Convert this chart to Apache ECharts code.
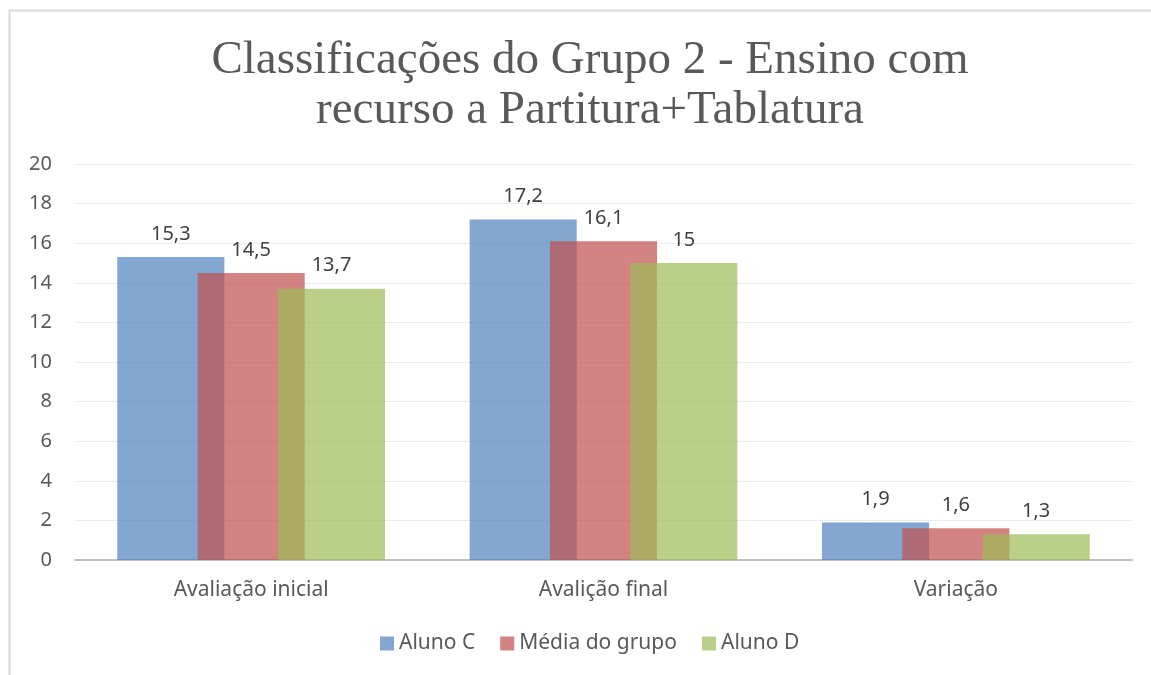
<!DOCTYPE html>
<html>
<head>
<meta charset="utf-8">
<script src="https://cdn.jsdelivr.net/npm/echarts@6/dist/echarts.min.js"></script>
<style>
  html, body { margin: 0; padding: 0; background: #fff; }
  #chart { width: 1151px; height: 675px; }
</style>
</head>
<body>
<div id="chart"></div>
<script>
// dados do gráfico
const categorias = ["Avaliação inicial", "Avalição final", "Variação"];
const alunoC = [15.3, 17.2, 1.9];
const mediaGrupo = [14.5, 16.1, 1.6];
const alunoD = [13.7, 15, 1.3];

const chart = echarts.init(document.getElementById("chart"));

const fmt = (p) => String(p.value).replace(".", ",");
const labelStyle = {
  show: true,
  position: "top",
  distance: 13,
  color: "#404040",
  fontSize: 20,
  fontFamily: "Noto Sans",
  formatter: fmt,
};

chart.setOption({
  animation: false,
  graphic: [
    {
      type: "rect",
      shape: { x: 9.5, y: 10.5, width: 1200, height: 700 },
      style: { fill: "none", stroke: "#d9d9d9", lineWidth: 2 },
      silent: true,
    },
  ],
  title: {
    text: "Classificações do Grupo 2 - Ensino com\nrecurso a Partitura+Tablatura",
    left: 585,
    textAlign: "center",
    top: 31,
    textStyle: {
      fontFamily: "Liberation Serif",
      fontWeight: "normal",
      fontSize: 47,
      lineHeight: 50,
      color: "#595959",
    },
  },
  legend: {
    bottom: 16,
    left: 375,
    itemWidth: 14,
    itemHeight: 14,
    itemGap: 25,
    icon: "rect",
    textStyle: { color: "#595959", fontSize: 21, fontFamily: "Noto Sans" },
    data: ["Aluno C", "Média do grupo", "Aluno D"],
  },
  grid: { left: 75, right: 19, top: 164, bottom: 115, containLabel: false },
  xAxis: {
    type: "category",
    data: categorias,
    axisTick: { show: false },
    axisLine: { lineStyle: { color: "#bfbfbf", width: 2 } },
    axisLabel: {
      color: "#595959",
      fontSize: 21,
      fontFamily: "Noto Sans",
      margin: 20,
    },
  },
  yAxis: {
    type: "value",
    min: 0,
    max: 20,
    interval: 2,
    axisLine: { show: false },
    axisTick: { show: false },
    axisLabel: {
      color: "#595959",
      fontSize: 20,
      fontFamily: "Noto Sans",
      margin: 23,
    },
    splitLine: { lineStyle: { color: "#ececec", width: 1 } },
  },
  series: [
    {
      name: "Aluno C",
      type: "bar",
      data: alunoC,
      barGap: "-25%",
      barCategoryGap: "24%",
      itemStyle: { color: "rgba(79,129,189,0.7)" },
      label: labelStyle,
    },
    {
      name: "Média do grupo",
      type: "bar",
      data: mediaGrupo,
      itemStyle: { color: "rgba(192,80,77,0.7)" },
      label: labelStyle,
    },
    {
      name: "Aluno D",
      type: "bar",
      data: alunoD,
      itemStyle: { color: "rgba(155,187,89,0.7)" },
      label: labelStyle,
    },
  ],
});
</script>
</body>
</html>
